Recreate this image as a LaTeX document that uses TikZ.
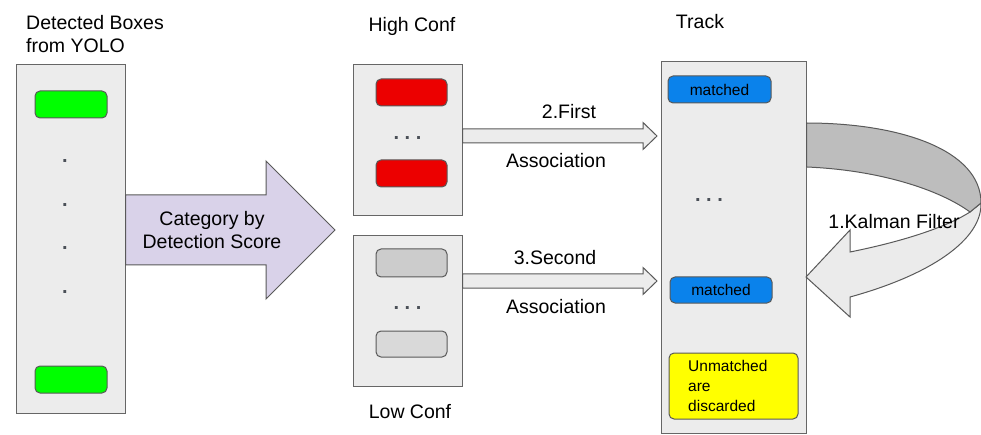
\documentclass[tikz,border=0pt]{standalone}
\usepackage{fontspec}
\setmainfont{Liberation Sans}
\usetikzlibrary{calc}
\definecolor{panelc}{HTML}{ECECEC}
\definecolor{linec}{HTML}{666666}
\definecolor{boxline}{HTML}{595959}
\definecolor{greenc}{HTML}{00FF00}
\definecolor{redc}{RGB}{236,0,0}
\definecolor{grayA}{HTML}{CCCCCC}
\definecolor{grayB}{HTML}{D9D9D9}
\definecolor{bluec}{RGB}{10,130,235}
\definecolor{yellowc}{HTML}{FFFF00}
\definecolor{lavc}{HTML}{D9D2E9}
\definecolor{darkband}{HTML}{BDBDBD}
\definecolor{lightband}{HTML}{EBEBEB}
\definecolor{dotc}{HTML}{4A4F57}
\tikzset{
  panel/.style={draw=linec, fill=panelc, line width=1pt, inner sep=0pt},
  item/.style={draw=boxline, line width=1pt, rounded corners=5pt, inner sep=0pt},
  lbl/.style={font=\fontsize{19.5}{23.5}\selectfont, inner sep=0pt, text=black},
  small/.style={font=\fontsize{15.5}{20}\selectfont, inner sep=0pt, text=black},
  dotn/.style={font=\bfseries\fontsize{20}{24}\selectfont, inner sep=0pt, text=dotc, anchor=base},
  fat/.style={draw=boxline, line width=1pt, line join=miter},
}
\begin{document}
\begin{tikzpicture}[x=1pt,y=-1pt]
\useasboundingbox (0,0) rectangle (981,435);
% panels
\node[panel, minimum width=109, minimum height=348] (det) at (70.5,239) {};
\node[panel, minimum width=109, minimum height=151] (high) at (407.5,140.5) {};
\node[panel, minimum width=109, minimum height=150] (low) at (407.5,311) {};
\node[panel, minimum width=145, minimum height=371] (track) at (733.5,247.5) {};
% titles
\node[lbl, anchor=west, align=left] (dettitle) at (26,34) {Detected Boxes\\from YOLO};
\node[lbl] (hightitle) at (412,26) {High Conf};
\node[lbl] (lowtitle) at (410,412) {Low Conf};
\node[lbl] (tracktitle) at (700,22) {Track};
% detected items
\node[item, fill=greenc, minimum width=72, minimum height=27] (g1) at (71,104.5) {};
\node[item, fill=greenc, minimum width=72, minimum height=27] (g2) at (71,379.5) {};
\foreach \y/\n in {161/1,205/2,248/3,292/4}
  \node[dotn] (dd\n) at (65,\y+1.5) {.};
% high conf items
\node[item, fill=redc, minimum width=71, minimum height=27] (r1) at (411.5,92.5) {};
\node[item, fill=redc, minimum width=71, minimum height=27] (r2) at (411.5,173.5) {};
\node[dotn] (hd) at (407.5,139.5) {.\ .\ .};
% low conf items
\node[item, fill=grayA, minimum width=71, minimum height=28] (l1) at (411.5,263) {};
\node[item, fill=grayB, minimum width=71, minimum height=26] (l2) at (411.5,344) {};
\node[dotn] (ld) at (407.5,309.5) {.\ .\ .};
% track items
\node[item, fill=bluec, minimum width=103, minimum height=27, small] (m1) at (719.5,89.5) {matched};
\node[item, fill=bluec, minimum width=102, minimum height=26, small] (m2) at (721,290) {matched};
\node[dotn] (td) at (709,201.5) {.\ .\ .};
\node[item, fill=yellowc, minimum width=129, minimum height=66] (un) at (733.5,386) {};
\node[small, anchor=west, align=left] (untext) at (688,386) {Unmatched\\are\\discarded};
% big arrow
\coordinate (bigtip) at (335,230);
\draw[fat, fill=lavc]
  ($(det.east |- bigtip)+(0,-35)$) -- ($(bigtip)+(-69,-35)$) -- ($(bigtip)+(-69,-69)$)
  -- (bigtip) -- ($(bigtip)+(-69,69)$) -- ($(bigtip)+(-69,35)$) -- ($(det.east |- bigtip)+(0,35)$) -- cycle;
\node[lbl, align=center] (cat) at (212,230) {Category by\\Detection Score};
% first association arrow
\coordinate (t1) at (657,136);
\draw[fat, fill=panelc]
  ($(high.east |- t1)+(0,-7)$) -- ($(t1)+(-14,-7)$) -- ($(t1)+(-14,-13.5)$)
  -- (t1) -- ($(t1)+(-14,13.5)$) -- ($(t1)+(-14,7)$) -- ($(high.east |- t1)+(0,7)$) -- cycle;
\node[lbl] (a1top) at (569,112) {2.First};
\node[lbl] (a1bot) at (556,161) {Association};
% second association arrow
\coordinate (t2) at (657,281);
\draw[fat, fill=panelc]
  ($(low.east |- t2)+(0,-7)$) -- ($(t2)+(-14,-7)$) -- ($(t2)+(-14,-13.5)$)
  -- (t2) -- ($(t2)+(-14,13.5)$) -- ($(t2)+(-14,7)$) -- ($(low.east |- t2)+(0,7)$) -- cycle;
\node[lbl] (a2top) at (555,258) {3.Second};
\node[lbl] (a2bot) at (556,307) {Association};
% curved Kalman arrow
\coordinate (ktip) at (806,277);
\draw[fat, fill=lightband]
  (981,203) .. controls (982,240) and (930,275) .. (850,297)
  -- (850,317) -- (ktip) -- (850,230) -- (850,252)
  .. controls (900,242) and (945,228) .. (970,212) -- cycle;
\draw[fat, fill=darkband]
  ($(track.east)+(0,-124.5)$) .. controls (900,123) and (981,150) .. (981,203)
  -- (970,212) .. controls (940,190) and (880,170) .. ($(track.east)+(0,-80.5)$) -- cycle;
\node[lbl] (kal) at (894,222) {1.Kalman Filter};
\end{tikzpicture}
\end{document}
